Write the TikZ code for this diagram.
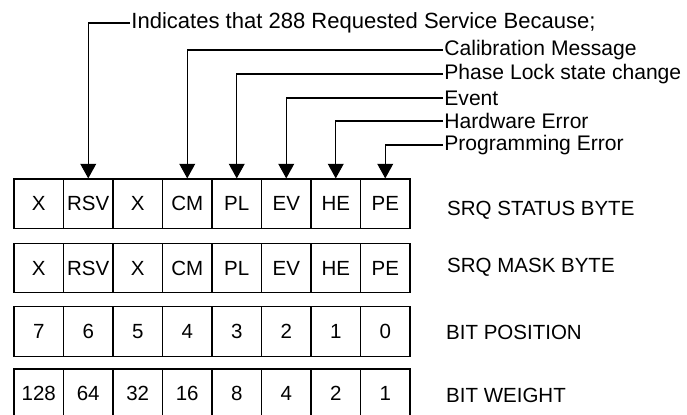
\documentclass[tikz,border=0pt]{standalone}
\usepackage{fontspec}
\setmainfont{Liberation Sans}
\usetikzlibrary{arrows.meta}

\tikzset{
  cell/.style={draw, line width=1pt, minimum width=1.485cm, minimum height=1.485cm,
    inner sep=0pt, font=\fontsize{17.5}{20}\selectfont},
  bytelabel/.style={anchor=west, inner sep=0pt, font=\fontsize{17.5}{20}\selectfont},
  flaglabel/.style={anchor=west, inner sep=1pt, font=\fontsize{18}{21}\selectfont},
  flagline/.style={line width=1pt, -{Triangle[length=12.5pt,width=13.5pt]}},
}

\begin{document}
\begin{tikzpicture}[x=0.03cm, y=-0.03cm]
  \useasboundingbox (0,0) rectangle (687,415);
  \clip (0,0) rectangle (687,415);  % last row runs off the page

  % status byte
  \foreach \lab [count=\i from 0] in {X,RSV,X,CM,PL,EV,HE,PE}
    \node[cell] (st\i) at (38.75+49.5*\i, 203.75) {\lab};
  \node[bytelabel] (stlab) at (447, 210) {SRQ STATUS BYTE};

  % mask byte
  \foreach \lab [count=\i from 0] in {X,RSV,X,CM,PL,EV,HE,PE}
    \node[cell] (mk\i) at (38.75+49.5*\i, 268) {\lab};
  \node[bytelabel] (mklab) at (447, 267) {SRQ MASK BYTE};

  % bit position
  \foreach \lab [count=\i from 0] in {7,6,5,4,3,2,1,0}
    \node[cell] (bp\i) at (38.75+49.5*\i, 331.5) {\lab};
  \node[bytelabel] (bplab) at (446, 332) {BIT POSITION};

  % bit weight
  \foreach \lab [count=\i from 0] in {128,64,32,16,8,4,2,1}
    \node[cell] (bw\i) at (38.75+49.5*\i, 393.75) {\lab};
  \node[bytelabel] (bwlab) at (446, 395) {BIT WEIGHT};

  % reasons for a service request
  \node[flaglabel, font=\fontsize{18.8}{22}\selectfont] (ind) at (130, 23) {Indicates that 288 Requested Service Because;};
  \node[flaglabel] (cal) at (443, 50) {Calibration Message};
  \node[flaglabel] (phl) at (443, 74) {Phase Lock state change};
  \node[flaglabel] (evt) at (443, 98) {Event};
  \node[flaglabel] (hwe) at (443, 121) {Hardware Error};
  \node[flaglabel] (pge) at (443, 145) {Programming Error};

  % leader lines down to the status bits
  \draw[flagline] (ind.west) -| (st1.north);  % RSV
  \draw[flagline] (cal.west) -| (st3.north);  % CM
  \draw[flagline] (phl.west) -| (st4.north);  % PL
  \draw[flagline] (evt.west) -| (st5.north);  % EV
  \draw[flagline] (hwe.west) -| (st6.north);  % HE
  \draw[flagline] (pge.west) -| (st7.north);  % PE
\end{tikzpicture}
\end{document}
